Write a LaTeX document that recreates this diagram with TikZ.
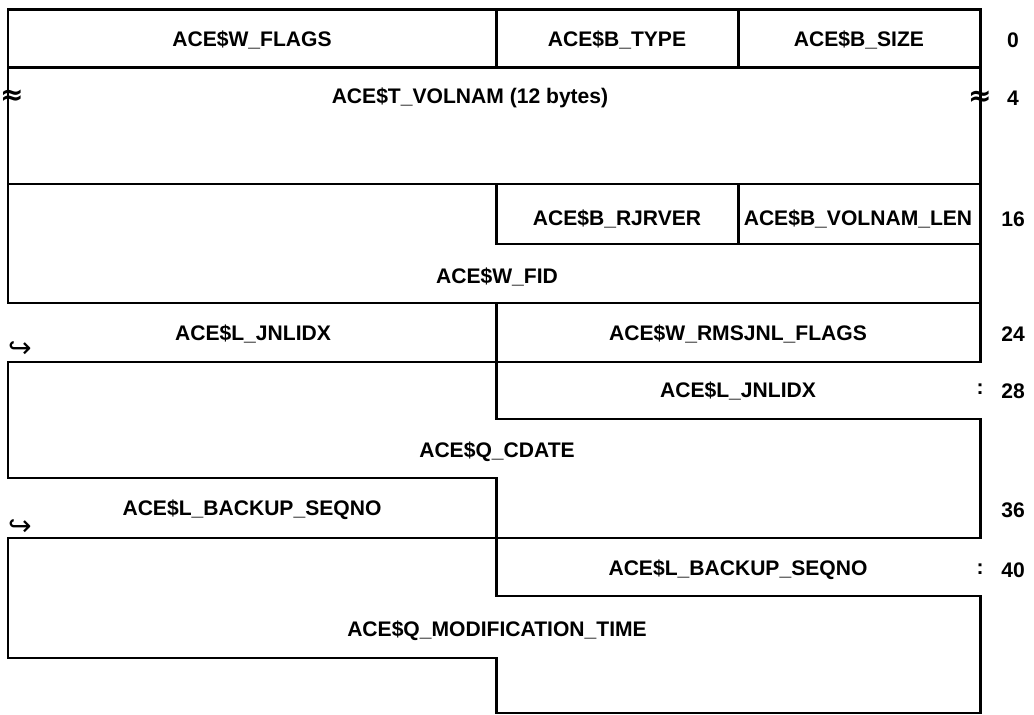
\documentclass[tikz,border=0pt]{standalone}
\usepackage{fontspec}
\setmainfont{Liberation Sans}
\newfontfamily\symfont{DejaVu Sans}
\usetikzlibrary{positioning}

\begin{document}
\begin{tikzpicture}[x=0.02cm, y=-0.02cm, line width=1.7pt, line cap=rect,
  field/.style={font=\bfseries\fontsize{12}{14}\selectfont, inner sep=0pt},
  offset/.style={font=\bfseries\fontsize{12}{14}\selectfont, inner sep=0pt},
  sign/.style={font=\symfont\bfseries\fontsize{16}{20}\selectfont, inner sep=0pt},
  hook/.style={font=\symfont\fontsize{16}{20}\selectfont, inner sep=0pt}]

%---------------------------------------
% Column edges and row lines
%---------------------------------------
\def\xL{8}
\def\xM{496}
\def\xQ{738}
\def\xR{980}
\def\xO{1013}

\useasboundingbox (0,0) rectangle (1034,715);

% Horizontal lines
\draw (\xL,10) -- (\xR,10);
\draw (\xL,68) -- (\xR,68);
\draw (\xL,184) -- (\xR,184);
\draw (\xM,244) -- (\xR,244);
\draw (\xL,303) -- (\xR,303);
\draw (\xL,362) -- (\xR,362);
\draw (\xM,419) -- (\xR,419);
\draw (\xL,478) -- (\xM,478);
\draw (\xL,538) -- (\xR,538);
\draw (\xM,596) -- (\xR,596);
\draw (\xL,658) -- (\xM,658);
\draw[line width=1pt] (\xM,713) -- (\xR,713);

% Left edge (open where a longword continues)
\draw (\xL,10) -- (\xL,303);
\draw (\xL,362) -- (\xL,478);
\draw (\xL,538) -- (\xL,658);

% Middle dividers
\draw (\xM,10) -- (\xM,68);
\draw (\xM,184) -- (\xM,244);
\draw (\xM,303) -- (\xM,419);
\draw (\xM,478) -- (\xM,596);
\draw (\xM,658) -- (\xM,713);

% Byte dividers
\draw (\xQ,10) -- (\xQ,68);
\draw (\xQ,184) -- (\xQ,244);

% Right edge
\draw (\xR,10) -- (\xR,362);
\draw (\xR,419) -- (\xR,538);
\draw (\xR,596) -- (\xR,713);

%---------------------------------------
% Field names
%---------------------------------------
\node[field] (wflags)  at (252,40)  {ACE\$W\_FLAGS};
\node[field] (btype)   at (617,40)  {ACE\$B\_TYPE};
\node[field] (bsize)   at (859,40)  {ACE\$B\_SIZE};
\node[field] (volnam)  at (470,98)  {ACE\$T\_VOLNAM (12 bytes)};
\node[field] (rjrver)  at (617,219) {ACE\$B\_RJRVER};
\node[field] (vollen)  at (858,219) {ACE\$B\_VOLNAM\_LEN};
\node[field] (wfid)    at (497,277) {ACE\$W\_FID};
\node[field] (jnlidxa) at (253,334) {ACE\$L\_JNLIDX};
\node[field] (rmsjnl)  at (738,334) {ACE\$W\_RMSJNL\_FLAGS};
\node[field] (jnlidxb) at (738,391) {ACE\$L\_JNLIDX};
\node[field] (cdate)   at (497,452) {ACE\$Q\_CDATE};
\node[field] (seqnoa)  at (252,510) {ACE\$L\_BACKUP\_SEQNO};
\node[field] (seqnob)  at (738,570) {ACE\$L\_BACKUP\_SEQNO};
\node[field] (modtime) at (497,631) {ACE\$Q\_MODIFICATION\_TIME};

% Break and continuation signs
\node[sign] (brkL)  at (12,97)   {≈};
\node[sign] (brkR)  at (\xR,98)  {≈};
\node[hook] (contA) at (20,350)  {↪};
\node[hook] (contB) at (20,528)  {↪};
\node[offset] (dotsA) at (\xR,389) {:};
\node[offset] (dotsB) at (\xR,569) {:};

% Byte offsets
\node[offset] (off0)  at (\xO,40)  {0};
\node[offset] (off4)  at (\xO,98)  {4};
\node[offset] (off16) at (\xO,219) {16};
\node[offset] (off24) at (\xO,334) {24};
\node[offset] (off28) at (\xO,391) {28};
\node[offset] (off36) at (\xO,510) {36};
\node[offset] (off40) at (\xO,570) {40};

\end{tikzpicture}
\end{document}
